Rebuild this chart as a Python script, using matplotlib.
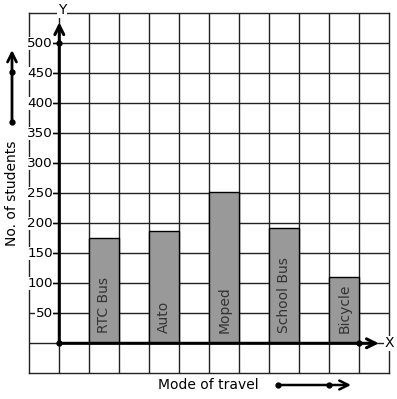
import matplotlib
matplotlib.use("Agg")
import matplotlib.pyplot as plt
import numpy as np

# data
modes = ["RTC Bus", "Auto", "Moped", "School Bus", "Bicycle"]
students = [176, 188, 252, 193, 110]
bar_pos = [1.5, 3.5, 5.5, 7.5, 9.5]
y_ticks = [50, 100, 150, 200, 250, 300, 350, 400, 450, 500]

W, H = 397, 399
fig = plt.figure(figsize=(W / 100, H / 100), dpi=100)
ax = fig.add_axes([29.3 / W, (H - 373.3) / H, 360 / W, 360 / H])
ax.set_xlim(-1, 11)
ax.set_ylim(-50, 550)
ax.set_xticks([])
ax.set_yticks([])
for s in ax.spines.values():
    s.set_color("#222222")
    s.set_linewidth(1.0)

# grid paper
for gx in np.arange(0, 11):
    ax.axvline(gx, color="#222222", lw=1.0, zorder=1)
for gy in np.arange(0, 550, 50):
    ax.axhline(gy, color="#222222", lw=1.0, zorder=1)

# bars
ax.bar(bar_pos, students, width=1.0, color="#999999", edgecolor="black",
       linewidth=1.0, zorder=3)
for x, m in zip(bar_pos, modes):
    ax.text(x, 17, m, rotation=90, ha="center", va="bottom", fontsize=10,
            color="#333333", zorder=4)

# axes with arrows
ax.annotate("", xy=(0, 535), xytext=(0, 0),
            arrowprops=dict(arrowstyle="->", lw=2.2, color="black",
                            mutation_scale=16, shrinkA=0, shrinkB=0), zorder=5)
ax.annotate("", xy=(10.65, 0), xytext=(0, 0),
            arrowprops=dict(arrowstyle="->", lw=2.2, color="black",
                            mutation_scale=16, shrinkA=0, shrinkB=0), zorder=5)
ax.plot([0, 0, 10], [0, 500, 0], "o", color="black", ms=3.5, zorder=6)
ax.text(0.1, 555, "Y", ha="center", va="center", fontsize=10,
        bbox=dict(fc="white", ec="none", pad=0.5), clip_on=False, zorder=6)
ax.text(11.0, 0, "X", ha="center", va="center", fontsize=10,
        bbox=dict(fc="white", ec="none", pad=0.5), clip_on=False, zorder=6)

# y tick labels
for v in y_ticks:
    ax.plot([-0.22, 0], [v, v], color="black", lw=1.0, zorder=5)
    ax.text(-0.22, v, str(v), ha="right", va="center", fontsize=9.7,
            bbox=dict(fc="white", ec="none", pad=0.2), clip_on=False, zorder=6)

# outside labels with arrows
fig.text(12 / W, 1 - 193 / H, "No. of students", rotation=90, ha="center",
         va="center", fontsize=10)
fig.text(208 / W, 1 - 385 / H, "Mode of travel", ha="center", va="center",
         fontsize=10)
ax.annotate("", xy=(12, H - 50), xytext=(12, H - 122), xycoords="figure pixels",
            textcoords="figure pixels",
            arrowprops=dict(arrowstyle="->", lw=2.0, color="black",
                            mutation_scale=16, shrinkA=0, shrinkB=0))
ax.annotate("", xy=(351, H - 385), xytext=(278, H - 385), xycoords="figure pixels",
            textcoords="figure pixels",
            arrowprops=dict(arrowstyle="->", lw=1.8, color="black",
                            mutation_scale=16, shrinkA=0, shrinkB=0))
fig.add_artist(plt.Line2D([12 / W, 12 / W], [1 - 72 / H, 1 - 122 / H],
                          marker="o", ls="none", color="black", ms=3.5))
fig.add_artist(plt.Line2D([278 / W, 329 / W], [1 - 385 / H, 1 - 385 / H],
                          marker="o", ls="none", color="black", ms=3.5))

fig.savefig("out.png", dpi=100)
